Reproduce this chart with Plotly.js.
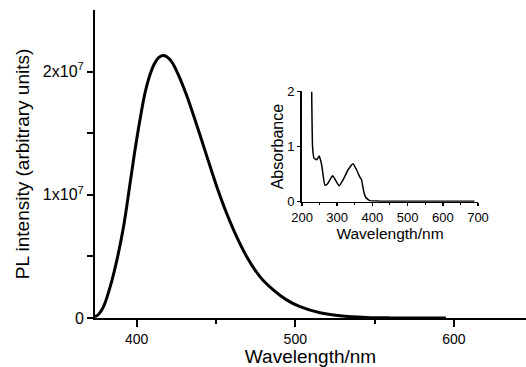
<!DOCTYPE html>
<html>
<head>
<meta charset="utf-8">
<script src="https://cdn.plot.ly/plotly-3.0.1.min.js"></script>
<style>html,body{margin:0;padding:0;background:#fff;}#chart{width:526px;height:367px;}</style>
</head>
<body>
<div id="chart"></div>
<script>
// Main PL spectrum
const plWavelength = [373.7, 376, 379, 383.3, 387.5, 391.7, 395.9, 399, 402.2, 405.3, 408, 411, 414, 416.5, 419, 422, 426.4, 431.7, 438, 444.3, 450.4, 456.7, 463, 469.3, 477.7, 486.1, 494.5, 503, 515.6, 528.2, 545, 560, 595];
const plIntensity = [0.01e7, 0.03e7, 0.09e7, 0.255e7, 0.47e7, 0.74e7, 1.10e7, 1.37e7, 1.62e7, 1.83e7, 1.96e7, 2.06e7, 2.115e7, 2.13e7, 2.12e7, 2.08e7, 1.97e7, 1.80e7, 1.56e7, 1.31e7, 1.07e7, 0.85e7, 0.66e7, 0.50e7, 0.336e7, 0.228e7, 0.147e7, 0.092e7, 0.043e7, 0.019e7, 0.005e7, 0.001e7, 0.0];

// Inset absorption spectrum
const absWavelength = [227.5, 230, 234, 241.6, 249, 255.8, 265, 271.7, 287, 298, 305.7, 317, 331, 345, 355, 364, 369, 375.6, 381, 392.6, 420, 690];
const absValue = [2.0, 1.0, 0.79, 0.76, 0.83, 0.67, 0.30, 0.32, 0.47, 0.36, 0.29, 0.40, 0.58, 0.69, 0.58, 0.45, 0.40, 0.18, 0.08, 0.02, 0.01, 0.01];

// Tick labels
const mainXTicks = [400, 500, 600];
const mainXMinor = [450, 550];
const mainYTicks = [0, 1e7, 2e7];
const mainYTickText = ['0', '1x10<sup>7</sup>', '2x10<sup>7</sup>'];
const mainYMinor = [0.5e7, 1.5e7];
const insetXTicks = [200, 300, 400, 500, 600, 700];
const insetXMinor = [250, 350, 450, 550, 650];
const insetYTicks = [0, 1, 2];

const FONT = 'Liberation Sans, Arial, Helvetica, sans-serif';

const traces = [
  {x: plWavelength, y: plIntensity, type: 'scatter', mode: 'lines',
   line: {color: '#000', width: 3, shape: 'spline', smoothing: 1},
   xaxis: 'x', yaxis: 'y', hoverinfo: 'skip', showlegend: false},
  {x: absWavelength, y: absValue, type: 'scatter', mode: 'lines',
   line: {color: '#000', width: 1.5, shape: 'spline', smoothing: 0.4},
   xaxis: 'x2', yaxis: 'y2', hoverinfo: 'skip', showlegend: false}
];

const layout = {
  width: 526, height: 367,
  margin: {l: 95, r: 0, t: 10, b: 49},
  paper_bgcolor: '#fff', plot_bgcolor: 'rgba(0,0,0,0)',
  font: {family: FONT, color: '#000'},
  showlegend: false,
  xaxis: {
    domain: [0, 1], range: [373.7, 645.5], showgrid: false, zeroline: false,
    showline: true, linecolor: '#000', linewidth: 2, mirror: false,
    ticks: 'outside', ticklen: 7, tickwidth: 2, tickcolor: '#000',
    tickvals: mainXTicks, tickfont: {size: 14, family: FONT, color: '#000'},
    minor: {tickvals: mainXMinor, ticks: 'outside', ticklen: 4, tickwidth: 2, tickcolor: '#000', showgrid: false},
    title: {text: 'Wavelength/nm', font: {size: 19, family: FONT, color: '#000'}, standoff: 7},
    automargin: false
  },
  yaxis: {
    domain: [0, 1], range: [0, 2.5e7], showgrid: false, zeroline: false,
    showline: true, linecolor: '#000', linewidth: 2,
    ticks: 'outside', ticklen: 6, tickwidth: 2, tickcolor: '#000',
    tickvals: mainYTicks, ticktext: mainYTickText, tickfont: {size: 16, family: FONT, color: '#000'},
    minor: {tickvals: mainYMinor, ticks: 'outside', ticklen: 6, tickwidth: 2, tickcolor: '#000', showgrid: false},
    title: {text: 'PL intensity (arbitrary units)', font: {size: 19, family: FONT, color: '#000'}, standoff: 8},
    automargin: false
  },
  xaxis2: {
    domain: [0.4803, 0.8886], anchor: 'y2', range: [200, 700], showgrid: false, zeroline: false,
    showline: true, linecolor: '#000', linewidth: 1.5,
    ticks: 'outside', ticklen: 3, tickwidth: 1.5, tickcolor: '#000',
    tickvals: insetXTicks, tickfont: {size: 13, family: FONT, color: '#000'},
    minor: {tickvals: insetXMinor, ticks: 'outside', ticklen: 2, tickwidth: 1, tickcolor: '#000', showgrid: false},
    title: {text: 'Wavelength/nm', font: {size: 15.5, family: FONT, color: '#000'}, standoff: 0},
    automargin: false
  },
  yaxis2: {
    domain: [0.3776, 0.7354], anchor: 'x2', range: [0, 2], showgrid: false, zeroline: false,
    showline: true, linecolor: '#000', linewidth: 2,
    ticks: 'outside', ticklen: 3, tickwidth: 1.5, tickcolor: '#000',
    tickvals: insetYTicks, tickfont: {size: 13, family: FONT, color: '#000'},
    title: {text: 'Absorbance', font: {size: 16, family: FONT, color: '#000'}, standoff: 0},
    automargin: false
  }
};

Plotly.newPlot('chart', traces, layout, {staticPlot: true, displayModeBar: false});
</script>
</body>
</html>
